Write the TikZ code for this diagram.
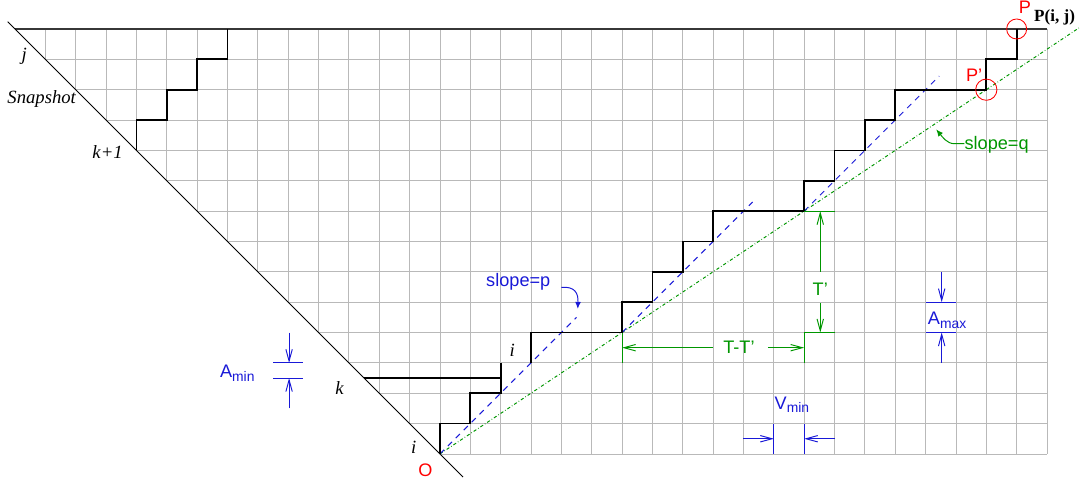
\documentclass[tikz,border=0pt]{standalone}
\usepackage{fontspec}
\setmainfont{Liberation Serif}
\setsansfont{Liberation Sans}
\usetikzlibrary{arrows.meta}
\definecolor{gridgray}{RGB}{185,185,185}
\definecolor{topgray}{RGB}{55,55,55}
\definecolor{figblue}{RGB}{25,25,215}
\definecolor{figgreen}{RGB}{0,150,0}
\definecolor{figred}{RGB}{255,0,0}
\begin{document}
\begin{tikzpicture}[x=1cm,y=1cm,
  gridline/.style={draw=gridgray, line width=0.75pt},
  topline/.style={draw=topgray, line width=1.4pt},
  diag/.style={draw=black, line width=0.9pt},
  stair/.style={draw=black, line width=1.6pt, line join=miter},
  pline/.style={draw=figblue, line width=0.9pt, dash pattern=on 5.5pt off 5pt},
  qline/.style={draw=figgreen, line width=0.9pt, dash pattern=on 3pt off 2pt on 0.6pt off 2pt},
  gmark/.style={draw=figgreen, line width=0.9pt},
  bmark/.style={draw=figblue, line width=0.9pt},
  garrow/.style={draw=figgreen, line width=0.9pt, -{Straight Barb[length=11pt,width=6pt]}},
  barrow/.style={draw=figblue, line width=0.9pt, -{Straight Barb[length=11pt,width=6pt]}},
  ptr/.style={line width=0.9pt, -{Latex[length=6.5pt,width=5.5pt]}},
  sanslab/.style={font=\sffamily\fontsize{17}{19}\selectfont, inner sep=0pt},
  seriflab/.style={font=\itshape\fontsize{17.5}{20}\selectfont, inner sep=0pt},
  redlab/.style={sanslab, text=figred},
  circ/.style={draw=figred, line width=0.8pt}
]
\useasboundingbox (-0.494,-0.923) rectangle (35.12,14.955);

% grid
\foreach \r in {0,...,13} \draw[gridline] ({14-\r},\r) -- (34,\r);
\foreach \c in {1,...,34} \draw[gridline] (\c,{max(0,14-\c)}) -- (\c,14);

% top line and diagonal
\coordinate (TL) at (0,14);
\coordinate (TR) at (34,14);
\draw[topline] (TL) -- (TR);
\coordinate (D1) at (-0.24,14.24);
\coordinate (D2) at (14.76,-0.76);
\draw[diag] (D1) -- (D2);

% key points
\coordinate (O) at (14,0);
\coordinate (P) at (33,14);
\coordinate (Pp) at (32,12);
\coordinate (Q) at (35.05,14.033);

% green line slope q
\draw[qline] (O) -- (Q);

% blue dashed lines slope p
\draw[pline] (O) -- (18.5,4.5);
\draw[pline] (20,4) -- (24.3,8.3);
\draw[pline] (26,8) -- (30.45,12.45);

% staircases
\draw[stair] (4,10) -- (4,11) -- (5,11) -- (5,12) -- (6,12) -- (6,13) -- (7,13) -- (7,14);
\draw[stair] (O) -- (14,1) -- (15,1) -- (15,2) -- (16,2) -- (16,3);
\draw[stair] (11.5,2.5) -- (16,2.5);
\draw[stair] (17,3) -- (17,4) -- (20,4) -- (20,5) -- (21,5) -- (21,6) -- (22,6) -- (22,7) -- (23,7) -- (23,8) -- (26,8) -- (26,9) -- (27,9) -- (27,10) -- (28,10) -- (28,11) -- (29,11) -- (29,12) -- (Pp) -- (32,13) -- (33,13) -- (P);

% red circles and labels
\draw[circ] (P) circle (0.33);
\draw[circ] (Pp) circle (0.35);
\node[redlab] (Plab) at (33.27,14.71) {P};
\node[redlab] (Pplab) at (31.6,12.46) {P'};
\node[redlab] (Olab) at (13.52,-0.54) {O};
\node[anchor=base west, inner sep=0pt, font=\bfseries\fontsize{16}{18}\selectfont] (Pij) at (33.57,14.24) {P(i, j)};

% serif italic labels
\node[seriflab] (jlab) at (0.3,13.1) {j};
\node[seriflab] (snap) at (0.88,11.7) {Snapshot};
\node[seriflab] (k1lab) at (3.05,9.95) {k+1};
\node[seriflab] (klab) at (10.69,2.16) {k};
\node[seriflab] (i1lab) at (13.14,0.22) {i};
\node[seriflab] (i2lab) at (16.38,3.42) {i};

% slope = p
\node[sanslab, text=figblue] (slp) at (16.58,5.68) {slope=p};
\coordinate (slpA) at (18.0,5.49);
\coordinate (slpB) at (18.54,4.78);
\draw[ptr, figblue] (slpA) .. controls (18.45,5.52) and (18.56,5.3) .. (slpB);

% slope = q
\node[sanslab, text=figgreen] (slq) at (32.34,10.18) {slope=q};
\coordinate (slqA) at (31.28,10.22);
\coordinate (slqM) at (30.95,10.22);
\coordinate (slqB) at (30.35,10.69);
\draw[ptr, figgreen] (slqA) -- (slqM) .. controls (30.7,10.22) and (30.55,10.45) .. (slqB);

% T' construction
\draw[gmark] (26,8) -- (27,8);
\draw[gmark] (26,3) -- (26,4) -- (27,4);
\draw[gmark] (20,3) -- (20,4);
\node[sanslab, text=figgreen] (Tp) at (26.53,5.44) {T'};
\coordinate (Tpu) at (26.53,6.0);
\coordinate (Tpd) at (26.53,4.96);
\draw[garrow] (Tpu) -- (26.53,8);
\draw[garrow] (Tpd) -- (26.53,4);
\node[sanslab, text=figgreen] (TT) at (23.85,3.5) {T-T'};
\coordinate (TTl) at (23.0,3.5);
\coordinate (TTr) at (24.8,3.5);
\draw[garrow] (TTl) -- (20,3.5);
\draw[garrow] (TTr) -- (26,3.5);

% A_max
\draw[bmark] (30,5) -- (31,5);
\draw[bmark] (30,4) -- (31,4);
\draw[barrow] (30.53,6) -- (30.53,5);
\draw[barrow] (30.53,3) -- (30.53,4);
\node[anchor=base west, inner sep=0pt, text=figblue] (Amax) at (30.07,4.25)
  {\sffamily\fontsize{17}{19}\selectfont A\raisebox{-0.13cm}{\fontsize{13}{15}\selectfont max}};

% A_min
\draw[bmark] (8.5,3) -- (9.5,3);
\draw[bmark] (8.5,2.5) -- (9.5,2.5);
\draw[barrow] (9.03,4) -- (9.03,3);
\draw[barrow] (9.03,1.5) -- (9.03,2.5);
\node[anchor=base west, inner sep=0pt, text=figblue] (Amin) at (6.75,2.53)
  {\sffamily\fontsize{17}{19}\selectfont A\raisebox{-0.15cm}{\fontsize{13}{15}\selectfont min}};

% V_min
\draw[bmark] (25,0) -- (25,1);
\draw[bmark] (26,0) -- (26,1);
\draw[barrow] (24,0.5) -- (25,0.5);
\draw[barrow] (27,0.5) -- (26,0.5);
\node[anchor=base west, inner sep=0pt, text=figblue] (Vmin) at (25.02,1.45)
  {\sffamily\fontsize{17}{19}\selectfont V\raisebox{-0.09cm}{\fontsize{13}{15}\selectfont min}};

\end{tikzpicture}
\end{document}
